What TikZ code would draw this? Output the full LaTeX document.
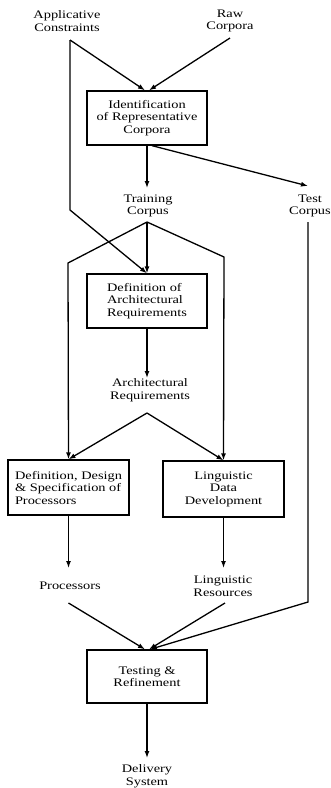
\documentclass[tikz,border=0pt]{standalone}
\usepackage{fontspec}
\setmainfont[FakeStretch=1.25]{Liberation Serif}
\usetikzlibrary{arrows.meta}
\begin{document}
\begin{tikzpicture}[x=1pt,y=-1pt,
  lbl/.style={font=\fontsize{11.5}{12.5}\selectfont, align=center, inner sep=0pt},
  box/.style={draw, line width=1.3pt, font=\fontsize{11.5}{12.5}\selectfont, align=center, inner sep=2pt, minimum width=120pt, minimum height=54pt},
  conn/.style={line width=1.3pt},
  arr/.style={conn, -{Latex[length=7pt,width=5pt]}}]
\useasboundingbox (0,0) rectangle (331,788);
% labels
\node[lbl] (ac) at (67,21) {Applicative\\Constraints};
\node[lbl] (raw) at (230,21) {Raw\\Corpora};
\node[lbl] (tc) at (148,206) {Training\\Corpus};
\node[lbl] (test) at (310,206) {Test\\Corpus};
\node[lbl] (archreq) at (150,390) {Architectural\\Requirements};
\node[lbl] (proc) at (70,586) {Processors};
\node[lbl] (lr) at (223,586) {Linguistic\\Resources};
\node[lbl] (ds) at (147,776) {Delivery\\System};
% boxes
\node[box] (id) at (147,118) {Identification\\of Representative\\Corpora};
\node[box, align=left] (dar) at (147,301) {Definition of\\Architectural\\Requirements};
\node[box, minimum width=121pt, minimum height=55pt, align=left] (dds) at (68.5,487.5) {Definition, Design\\\& Specification of\\Processors};
\node[box, minimum width=121pt, minimum height=56pt] (ldd) at (223.5,489) {Linguistic\\Data\\Development};
\node[box, minimum height=53pt] (tr) at (147,676.5) {Testing \&\\Refinement};
% connector points
\coordinate (acb) at (70,40);
\coordinate (rawb) at (230,38);
\coordinate (acbend) at (70,210);
\coordinate (tct) at (147,188);
\coordinate (testt) at (308,186);
\coordinate (tcb) at (147,222);
\coordinate (tcl) at (68,263);
\coordinate (tcr) at (224,257);
\coordinate (testb) at (308,222);
\coordinate (testbend) at (308,602);
\coordinate (art) at (147,378);
\coordinate (arb) at (147,413);
\coordinate (proct) at (68.5,568);
\coordinate (procb) at (68.5,603);
\coordinate (lrt) at (223.5,568);
\coordinate (lrb) at (225,603);
\coordinate (dst) at (147,758);
% connectors
\draw[arr] (acb) -- ([xshift=-2pt]id.north);
\draw[arr] (rawb) -- ([xshift=2pt]id.north);
\draw[arr] (acb) -- (acbend) -- (dar.north);
\draw[arr] (id.south) -- (tct);
\draw[arr] ([xshift=5pt]id.south) -- (testt);
\draw[arr] (tcb) -- (dar.north);
\draw[arr] (tcb) -- (tcl) -- (dds.north);
\draw[arr] (tcb) -- (tcr) -- (ldd.north);
\draw[arr] (dar.south) -- (art);
\draw[arr] (arb) -- (dds.north);
\draw[arr] (arb) -- (ldd.north);
\draw[arr] (dds.south) -- (proct);
\draw[arr] (ldd.south) -- (lrt);
\draw[arr] (procb) -- ([xshift=-2pt]tr.north);
\draw[arr] (lrb) -- ([xshift=2pt]tr.north);
\draw[arr] (testb) -- (testbend) -- ([xshift=3pt]tr.north);
\draw[arr] (tr.south) -- (dst);
\end{tikzpicture}
\end{document}
